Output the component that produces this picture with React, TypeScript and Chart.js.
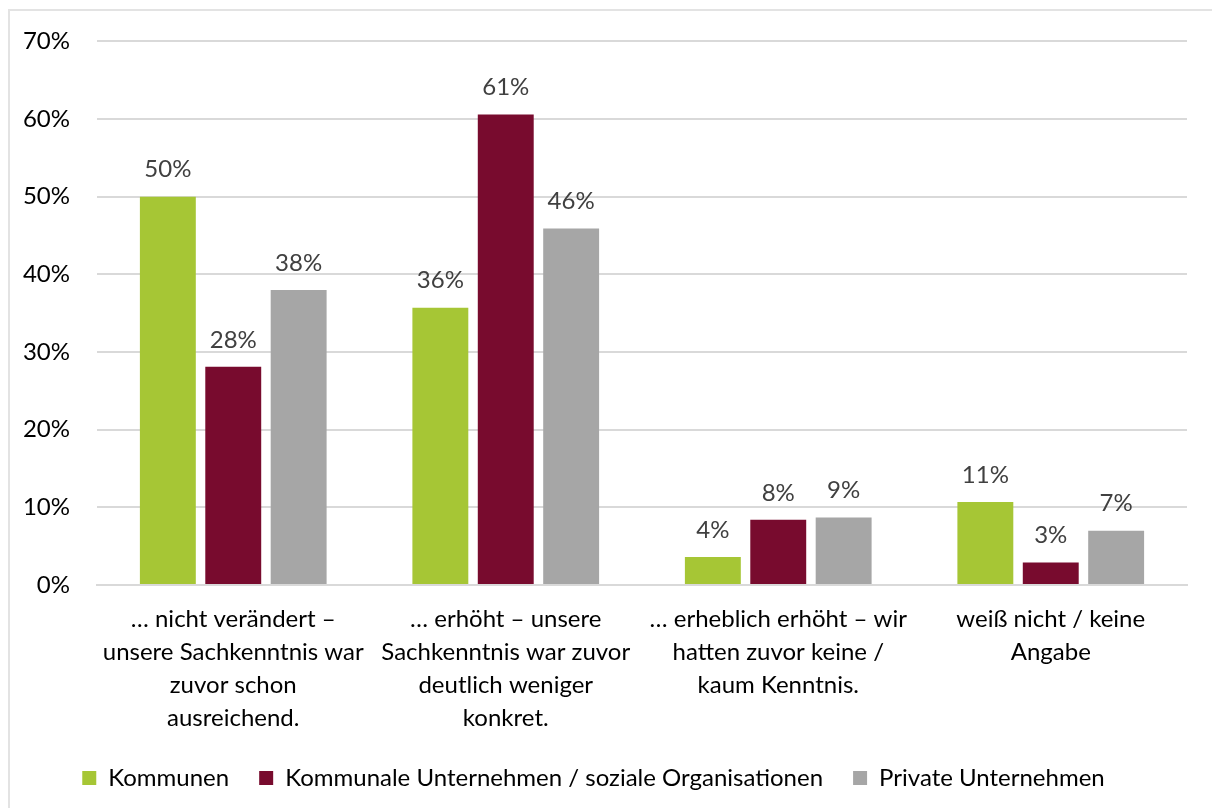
import React, { useEffect, useRef } from "react";
import { Chart, registerables } from "chart.js";

Chart.register(...registerables);

const categories: string[][] = [
  ["… nicht verändert –", "unsere Sachkenntnis war", "zuvor schon", "ausreichend."],
  ["… erhöht – unsere", "Sachkenntnis war zuvor", "deutlich weniger", "konkret."],
  ["… erheblich erhöht – wir", "hatten zuvor keine /", "kaum Kenntnis."],
  ["weiß nicht / keine", "Angabe"],
];
const seriesNames = [
  "Kommunen",
  "Kommunale Unternehmen / soziale Organisationen",
  "Private Unternehmen",
];
const kommunen = [50.0, 35.7, 3.6, 10.7];
const kommunaleUnternehmen = [28.1, 60.6, 8.4, 2.9];
const privateUnternehmen = [38.0, 45.9, 8.7, 7.0];
const seriesColors = ["#A6C635", "#780B2E", "#A6A6A6"];
const yMax = 70;
const yStep = 10;

const FONT = "Lato, 'Open Sans', sans-serif";
const FS = 24;

const dataLabelPlugin = {
  id: "dataLabels",
  afterDatasetsDraw(chart: any) {
    const ctx = chart.ctx;
    ctx.save();
    ctx.font = `${FS}px ${FONT}`;
    ctx.fillStyle = "#404040";
    ctx.textAlign = "center";
    ctx.textBaseline = "middle";
    chart.data.datasets.forEach((ds: any, i: number) => {
      const meta = chart.getDatasetMeta(i);
      meta.data.forEach((bar: any, j: number) => {
        const v = ds.data[j] as number;
        ctx.fillText(Math.round(v) + "%", bar.x, bar.y - 27);
      });
    });
    ctx.restore();
  },
};

const legendHeightPlugin = {
  id: "legendHeight",
  beforeLayout(chart: any) {
    const lg: any = chart.legend;
    if (lg && !lg.__patched) {
      const orig = lg.fit.bind(lg);
      lg.fit = function () {
        orig();
        this.height = 72;
      };
      lg.__patched = true;
    }
  },
};

export default function App() {
  const ref = useRef<HTMLCanvasElement | null>(null);

  useEffect(() => {
    if (!ref.current) return;
    const datasets = [kommunen, kommunaleUnternehmen, privateUnternehmen].map((d, i) => ({
      label: seriesNames[i],
      data: d,
      backgroundColor: seriesColors[i],
      borderWidth: 0,
      categoryPercentage: 0.72,
      barPercentage: 0.855,
    }));
    const chart = new Chart(ref.current, {
      type: "bar",
      data: { labels: categories as any, datasets },
      options: {
        animation: false,
        responsive: false,
        maintainAspectRatio: false,
        devicePixelRatio: 1,
        layout: { padding: { top: 38, right: 25, left: 0, bottom: 0 } },
        plugins: {
          tooltip: { enabled: false },
          legend: {
            position: "bottom",
            labels: {
              font: { family: FONT, size: FS },
              color: "#000000",
              boxWidth: 14,
              boxHeight: 14,
              padding: 30,
            },
          },
        },
        scales: {
          x: {
            grid: { display: false, drawTicks: false },
            border: { display: true, color: "#D9D9D9", width: 2 },
            ticks: {
              color: "#000000",
              font: { family: FONT, size: FS, lineHeight: 33 / FS },
              padding: 18,
              maxRotation: 0,
              minRotation: 0,
              autoSkip: false,
            },
            afterFit(scale: any) {
              scale.height = 151;
            },
          },
          y: {
            min: 0,
            max: yMax,
            grid: { color: "#D9D9D9", lineWidth: 2, drawTicks: false },
            border: { display: false },
            ticks: {
              stepSize: yStep,
              color: "#000000",
              font: { family: FONT, size: FS },
              padding: 27,
              callback: (v: any) => v + "%",
            },
            afterFit(scale: any) {
              scale.width = 97;
            },
          },
        },
      },
      plugins: [dataLabelPlugin, legendHeightPlugin],
    });
    return () => chart.destroy();
  }, []);

  return (
    <div
      style={{
        position: "fixed",
        left: 0,
        top: 0,
        width: 1212,
        height: 808,
        background: "#ffffff",
        overflow: "hidden",
      }}
    >
      <div
        style={{
          position: "absolute",
          left: 8,
          top: 9,
          width: 1300,
          height: 900,
          borderLeft: "2px solid #E3E3E3",
          borderTop: "2px solid #E3E3E3",
        }}
      />
      <canvas
        ref={ref}
        width={1212}
        height={808}
        style={{ position: "absolute", left: 0, top: 0, width: 1212, height: 808 }}
      />
    </div>
  );
}
